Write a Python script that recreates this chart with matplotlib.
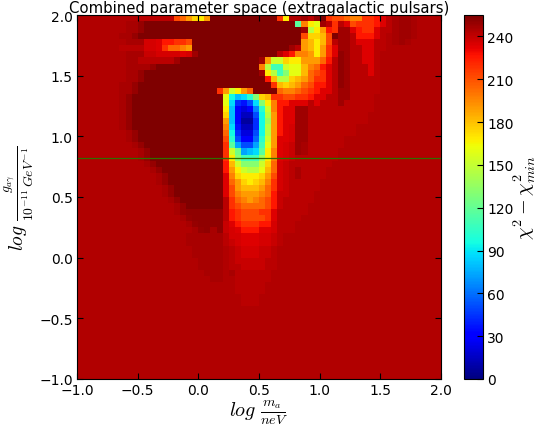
import matplotlib
matplotlib.use('Agg')
import matplotlib.pyplot as plt
import numpy as np

plt.rcParams['mathtext.fontset'] = 'cm'

# chi2 cells are written as one letter each, 0 = lowest ... z = 255
codes = "0123456789abcdefghijklmnopqrstuvwxyz"
extra_codes = {'.': 244.0, ',': 246.0, ':': 251.0, 'A': 236.0, 'B': 238.5, 'x': 241.5}
background = 244.0

# rows from the top of the plot, 60 x 60 cells
dim_from = [60, 8, 8, 7, 8, 8, 8, 8, 8, 8, 8, 7, 7, 7, 7, 7, 7, 7, 7, 8, 8, 9, 10, 10,
            11, 12, 13, 13, 14, 14, 15, 16, 16, 17, 18, 19]
dark_from = [22, 11, 11, 10, 19, 19, 19, 17, 13, 11, 11, 10, 10, 9, 9, 9, 9, 9, 9, 10,
             10, 11, 12, 12, 13, 14, 15, 15, 16, 16, 17, 18, 18, 19, 20, 21]
dark_to = [33, 36, 37, 37, 37, 36, 34, 30, 30, 31, 31, 32, 24, 24, 24, 24, 24, 24, 24, 24,
           24, 24, 24, 24, 24, 24, 24, 24, 24, 24, 24, 24, 24, 24, 24, 24]

blob = [(12, 23, "uqlnqszzzz"), (13, 24, "mdbceiopu"), (14, 24, "mc657cinr"),
        (15, 24, "nb4349elr"), (16, 24, "ob4227dkq"), (17, 24, "qb4116djq"),
        (18, 24, "rc5226dkq"), (19, 24, "sd6337dkq"), (20, 24, "te7448elq"),
        (21, 24, "uga77afmq"), (22, 24, "ulhabcgnr"), (23, 24, "unifffjnr"),
        (24, 24, "vpliiilos"), (25, 24, "vqnlkkmps"), (26, 24, "wronnnoqt"),
        (27, 24, "wsqonopru"), (28, 24, "wtqpppqsu"), (29, 24, "wtrqqqrsv"),
        (30, 24, "xusrqrstv"), (31, 24, "xutsssstv"), (32, 24, "xvutttuuw"),
        (33, 24, "xvuttttuw"), (34, 24, "BwvuuuvvA"), (35, 24, "BAwvvvwwA"),
        (36, 24, "xAAwwwAAB"), (37, 24, "xBAwwwAAB"), (38, 24, ".xBAAABBx"),
        (39, 24, ".xBAAABBx"), (40, 24, ".xBBBBBxx"), (41, 24, ".xxBBBBxx"),
        (42, 24, ".,xxxxxx."), (43, 24, "..xxxxxx."), (44, 24, "..xxxxx.."),
        (45, 24, "..xxxxx.."), (46, 24, "...xxx..."), (47, 24, "...xxx...")]

ridge = [(0, 33, "un"), (0, 37, "yx:zuttsr"), (1, 36, "grnmyxuxwt"), (2, 37, "yknqvuyyw"),
         (3, 37, "tooptzyyx"), (4, 37, "qpnptxyyx"), (5, 35, "yxqpnquwyyx"),
         (6, 33, "xwvrrqnquw:yx"), (7, 30, "yqllonnqqqsvx:yx"), (8, 30, "rkfflmmprsvwx:yx"),
         (9, 30, "ynkfimmpstuwx:yx"), (10, 31, "vpkkopqsuuwx:yx"), (11, 32, "upopqstvvwx:yx"),
         (12, 32, "ysrrstuvwwxyyx"), (13, 33, "uttuuvwwxxyyx"), (14, 33, "vvwwwxwxxxyxx"),
         (15, 33, "vwwyyxxxxxxxx"), (16, 33, "vwwyyxxxxxxxx"), (17, 33, "vwwyyxxxxxxxx"),
         (18, 33, "vwAyyxxxxxxxx"), (19, 33, "vwAyyxxxxxxxx"), (20, 33, "wwAyyxxxxxx.."),
         (21, 33, "wABy,xxxxxx.."), (22, 33, "wABy,xxxxx..."), (23, 33, "wABxxxxxxx..."),
         (24, 33, "ABxxxxxxx...."), (25, 33, "ABx,xxxx....."), (26, 33, "ABx,xxxx....."),
         (27, 33, "ABxxxxx......"), (28, 33, "ABxxxxx......"), (29, 33, "BBxxxx......."),
         (30, 33, "Bxxxxx......."), (31, 33, "Bxxxx........"), (32, 33, "xxxxx........"),
         (33, 33, "xxxx........."), (34, 33, "xxx.........."), (35, 33, "xxx.........."),
         (36, 33, "x............"), (37, 33, "x............")]

right_top = [(0, 46, "ruuvw"), (0, 51, "x"), (0, 52, ",yy,"), (1, 46, "uuuvw"), (1, 51, "x"),
             (1, 52, ",yy,"), (2, 46, "vuuw"), (2, 50, "xx"), (2, 52, ",yy,"),
             (3, 46, "vvvwx"), (3, 52, ",yy,"), (4, 46, "wwwxx"), (4, 52, ",y,"),
             (5, 46, "xwwxx"), (6, 46, "xwwx"), (7, 46, "xwwx"), (8, 46, "xxwx"),
             (9, 46, "xxwx"), (10, 46, "xxxx"), (11, 46, "xxxx"), (12, 46, "xxxx"),
             (13, 46, "xxx"), (14, 46, "xxx"), (15, 46, "xxx"), (16, 46, "xx"), (17, 46, "xx")]

left_top = [(0, 10, "xxxxxxtsqonq"), (4, 11, "AAwvvuut"), (5, 7, "xxxxAAwussrq"),
            (6, 11, "BBAAAAwAy"), (7, 10, "xxxxxxy")]

faint = [(36, 18, ",,,,,,"), (37, 18, ",,,,,,"), (38, 19, ",,,,,"), (39, 19, ",,,,,"),
         (40, 20, ",,,,"), (41, 20, ",,,,"), (42, 21, ",,,"), (43, 22, ",,")]

# bottom of the dark valley is softer than the rest of it
valley_floor = [(32, 18, ":::::::"), (33, 19, ":::::"), (34, 20, "::::"), (35, 21, ":,:")]

cbar_ticks = [0, 30, 60, 90, 120, 150, 180, 210, 240]
coupling_line = 0.82


def code_value(c):
    if c in extra_codes:
        return extra_codes[c]
    return codes.index(c) * 255.0 / 35


grid = np.full((60, 60), background)
for r in range(len(dark_from)):
    grid[r, dim_from[r]:dark_from[r]] = 246.0
    if r > 0:
        grid[r, dark_from[r] - 1] = 250.0
    grid[r, dark_from[r]:dark_to[r]] = 255.0
for patches in (faint, valley_floor, left_top, right_top, ridge, blob):
    for r, c, cells in patches:
        for k, ch in enumerate(cells):
            grid[r, c + k] = code_value(ch)

W, H = 535.0, 435.0
fig = plt.figure(figsize=(5.35, 4.35), dpi=100)
ax = fig.add_axes([77 / W, (H - 380) / H, 364 / W, 364 / H])
im = ax.imshow(grid, cmap='jet', vmin=0, vmax=255, extent=[-1, 2, -1, 2], aspect='auto',
               interpolation='nearest')
ax.axhline(coupling_line, color='#2f6f00', lw=0.9)
ax.set_xlim(-1, 2)
ax.set_ylim(-1, 2)
ax.set_xticks([-1, -0.5, 0, 0.5, 1, 1.5, 2])
ax.set_yticks([-1, -0.5, 0, 0.5, 1, 1.5, 2])
ax.tick_params(direction='in', top=True, right=True, length=4, pad=3, labelsize=10)
ax.set_title('Combined parameter space (extragalactic pulsars)', fontsize=10.7, pad=2)
ax.set_xlabel(r'$log\ \frac{m_a}{neV}$', fontsize=14.5, labelpad=0)
ax.set_ylabel(r'$log\ \frac{g_{a\gamma}}{10^{-11}\,GeV^{-1}}$', fontsize=14)
ax.yaxis.set_label_coords(-0.113, 0.5)

cax = fig.add_axes([464 / W, (H - 380) / H, 19 / W, 364 / H])
cb = fig.colorbar(im, cax=cax, ticks=cbar_ticks)
cb.ax.tick_params(direction='in', length=4, labelsize=10, pad=3)
cb.set_label(r'$\chi^2 - \chi^2_{min}$', fontsize=14.5, labelpad=0)
cb.ax.yaxis.set_label_coords(2.5, 0.5)

fig.savefig('out.png', dpi=100)
